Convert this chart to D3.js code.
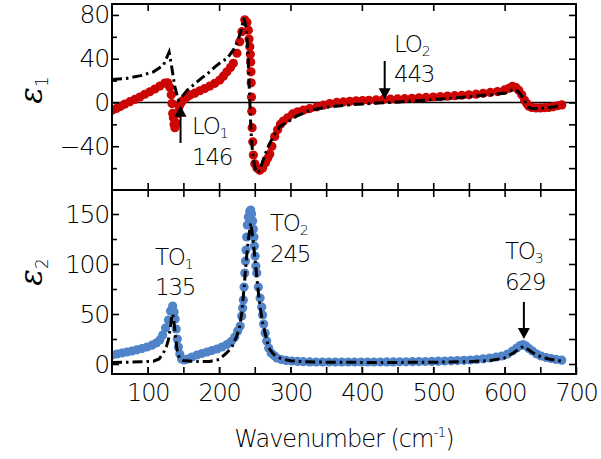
<!DOCTYPE html>
<html>
<head>
<meta charset="utf-8">
<script src="https://cdn.jsdelivr.net/npm/d3@7"></script>
<style>
  body { margin: 0; background: #fff; }
  text { font-family: "DejaVu Sans", "Liberation Sans", sans-serif; font-weight: 200; }
</style>
</head>
<body>
<svg id="chart" width="601" height="459"></svg>
<script>
// eps1 measured (red dots)
var e1Wn = [50,56,62,68,75,82,89,96,103,110,117,124,128,131,133,134,135,136,137,138,140,142,144,146,148,152,156,160,166,173,180,187,194,201,206,211,216,220,225,229,232,236,239,241,242,243,243.8,244.3,244.7,245,245.4,245.8,246.3,247.2,248,250,253,257,261,265,268,271,274,278,282,286,290,296,303,310,318,327,337,346,355,365,374,383,392,401,410,420,430,440,450,460,470,480,490,500,510,520,530,540,550,560,570,580,590,600,606,611,616,620,624,628,631,634,638,644,650,656,662,668,674,680];
var e1Val = [-7,-5.5,-3.5,-1.5,0.7,2.8,5,7.5,9.8,12.3,15,17.7,18,14,7,-1,-10,-14,-20,-23,-19,-10,-4,-1,1,3.5,5.5,7,8.5,10.7,12.7,15,17.5,20.5,24,28,32,35.8,45,55.5,64.7,75.5,73,66,58,51,44,37,28,18,5,-8,-23,-36,-48,-56,-60,-62,-60,-55,-51,-47,-40,-31,-25,-20,-17,-14,-10.5,-8.5,-7,-5.5,-4,-2.5,-1,0,0.5,1,1.5,1.8,2,2.3,2.8,3,3.2,3.5,3.8,4.2,4.6,5,5.4,5.8,6.2,6.6,7,7.6,8.4,9.2,10,11.5,13,14.8,13.5,11,7,2,-1,-3.5,-4.5,-5,-5,-4.8,-4.5,-3.8,-3,-2.2];
// eps1 fit (dash-dot)
var f1Wn = [50,70,90,108,122,130,133.6,138,143,148,155,165,175,185,195,205,211,220,226,231,234.5,237.5,239.5,241,242.5,244,245.5,247.5,250.5,254.5,258,262,267,272,278,285,296,310,323,340,356,375,394,412,430,453,477,500,525,547,575,600,610,615,619,623,627,630,634,638,650,660,670,680];
var f1Val = [21,22,24.5,28,34,46,32.7,14.4,2,5.3,11,16.5,22,27,33,38,40,48,56,66,77,70,55,35,10,-15,-35,-50,-60,-64.5,-60,-52,-43,-36,-29,-22,-17.8,-12,-8.4,-5.5,-3.9,-2.6,-1.7,-0.9,-0.3,0.5,1.5,2.5,3.8,5,6.8,8.4,11,12,10,7,3,-1,-4.5,-5.5,-5.5,-4.8,-4,-2];
// eps2 measured (blue dots)
var e2Wn = [50,57,64,71,78,85,92,99,106,112,117,121,125,129,132,135,137,138.5,140,141.5,143,145,147.5,151,156,162,169,176,183,190,197,204,211,217,222,226,229.5,231.7,233,234,235,236,237,237.7,238.7,239.6,241,243,244.3,245.5,247,248,248.8,249.5,250.5,251.5,252.7,255,257.5,259.7,261,262.5,264.5,266.7,269.5,273,277,281,287,294,302,310,318,327,336,345,354,363,372,381,390,399,408,417,426,435,444,453,462,471,480,489,498,507,516,525,534,543,552,561,570,579,588,596,604,611,617,622,626,630,634,639,645,651,658,665,672,680];
var e2Val = [9,10,11,12,13,14.2,15.5,17,18.8,21,24,29,36,44,53,58,52,45,35,25,17,10,5,4,5,7,9,10.5,12,13.5,15,17,19.5,22.5,27,33,38,48,56,64,77,91,103,114,127,139,147,152.6,154,150,143,135,127,118,108,98,91,77,66,57,49,40,31,23,16,11,8.5,6,4.5,3.6,3,2.6,2.3,2.1,2,2,2,2,2,2,2,2,2,2,2,2.1,2.1,2.2,2.2,2.3,2.4,2.5,2.6,2.8,3,3.2,3.4,3.7,4,4.5,5.2,6,7,8,10,13,16,18.5,19.5,18,15.5,13,10,8,6.5,5.5,4.6,3.8];
// eps2 fit (dash-dot)
var f2Wn = [50,70,90,108,116,122,126,129,131.5,133.6,135,136.5,138,139.5,141,143,145,150,164,187,200,210.6,218,224.7,229,231.7,234,236.3,238.5,241,243,244.3,246,248,250.5,252.7,255,257.4,260.5,264.3,268,271.3,276,280.7,288,300,320,350,400,450,500,550,580,600,612,620,626,632,640,650,662,672,680];
var f2Val = [1.5,1.8,2.2,2.8,5,11,17,24,35,47,50,44,34,24,15,9,5.5,3.5,2.6,2.6,4.5,11,17,27.6,38,51,68,87.6,107,124,135,141,133,121,104,87.6,72,57.6,43,31,21,14.3,10,7.6,5,3.2,2.2,1.8,1.6,1.6,1.8,2.3,3.5,6,11,15,17.6,15,11,7.5,5,3.6,2.8];

var xTicks = [100,200,300,400,500,600,700];
var y1Ticks = [-40,0,40,80];
var y2Ticks = [0,50,100,150];

var svg = d3.select("#chart");
var L = 112, R = 576, T = 4, M = 190, B = 374;

var x = d3.scaleLinear().domain([50,700]).range([L,R]);
var y1 = d3.scaleLinear().domain([-80,90]).range([M,T]);
var y2 = d3.scaleLinear().domain([-10,175]).range([B,M-1]);

var red = "#cc0505", blue = "#5083c8";

function zip(a, b) { return a.map(function(v, i) { return [v, b[i]]; }); }

function ticks(g, axis, fs) {
    g.call(axis);
    g.select(".domain").remove();
    g.selectAll(".tick line").attr("stroke", "#000").attr("stroke-width", 1.6);
    g.selectAll(".tick text").attr("fill", "#000").style("font-size", (fs || 24) + "px").attr("letter-spacing", "-1.2px");
}

// zero line, top panel
svg.append("line").attr("x1", L).attr("x2", R).attr("y1", y1(0)).attr("y2", y1(0))
    .attr("stroke", "#000").attr("stroke-width", 1.5);

var clip = svg.append("defs");
clip.append("clipPath").attr("id", "c1").append("rect").attr("x", L).attr("y", T).attr("width", R-L).attr("height", M-T);
clip.append("clipPath").attr("id", "c2").append("rect").attr("x", L).attr("y", M).attr("width", R-L).attr("height", B-M);

var g1 = svg.append("g").attr("clip-path", "url(#c1)");
g1.selectAll("circle").data(zip(e1Wn, e1Val)).enter().append("circle")
    .attr("cx", function(d) { return x(d[0]); })
    .attr("cy", function(d) { return y1(d[1]); })
    .attr("r", 4.6).attr("fill", red);
g1.append("path").datum(zip(f1Wn, f1Val))
    .attr("d", d3.line().x(function(d) { return x(d[0]); }).y(function(d) { return y1(d[1]); }))
    .attr("fill", "none").attr("stroke", "#000").attr("stroke-width", 3)
    .attr("stroke-dasharray", "10,4,2.5,4");

var g2 = svg.append("g").attr("clip-path", "url(#c2)");
g2.selectAll("circle").data(zip(e2Wn, e2Val)).enter().append("circle")
    .attr("cx", function(d) { return x(d[0]); })
    .attr("cy", function(d) { return y2(d[1]); })
    .attr("r", 4.6).attr("fill", blue);
g2.append("path").datum(zip(f2Wn, f2Val))
    .attr("d", d3.line().x(function(d) { return x(d[0]); }).y(function(d) { return y2(d[1]); }))
    .attr("fill", "none").attr("stroke", "#000").attr("stroke-width", 3)
    .attr("stroke-dasharray", "10,4,2.5,4");

// frames
svg.append("rect").attr("x", L).attr("y", T).attr("width", R-L).attr("height", M-T)
    .attr("fill", "none").attr("stroke", "#000").attr("stroke-width", 2);
svg.append("rect").attr("x", L).attr("y", M).attr("width", R-L).attr("height", B-M)
    .attr("fill", "none").attr("stroke", "#000").attr("stroke-width", 2);

var x50 = d3.range(100, 700, 50);
// x ticks
ticks(svg.append("g").attr("transform", "translate(0," + B + ")"),
    d3.axisBottom(x).tickValues(xTicks).tickSize(-7).tickPadding(10));
ticks(svg.append("g").attr("transform", "translate(0," + B + ")"),
    d3.axisBottom(x).tickValues(x50).tickSize(-7).tickFormat(""));
ticks(svg.append("g").attr("transform", "translate(0," + M + ")"),
    d3.axisBottom(x).tickValues(x50).tickSize(-7).tickFormat(""));
ticks(svg.append("g").attr("transform", "translate(0," + M + ")"),
    d3.axisTop(x).tickValues(x50).tickSize(-7).tickFormat(""));
ticks(svg.append("g").attr("transform", "translate(0," + T + ")"),
    d3.axisTop(x).tickValues([100,200,300,400,500,600]).tickSize(-7).tickFormat(""));

// y ticks
ticks(svg.append("g").attr("transform", "translate(" + L + ",0)"),
    d3.axisLeft(y1).tickValues(y1Ticks).tickSize(-7).tickPadding(3).tickFormat(d3.format("d")), 25);
ticks(svg.append("g").attr("transform", "translate(" + L + ",0)"),
    d3.axisLeft(y1).tickValues([-60,-20,20,60]).tickSize(-5).tickFormat(""));
ticks(svg.append("g").attr("transform", "translate(" + R + ",0)"),
    d3.axisRight(y1).tickValues([-60,-40,-20,0,20,40,60,80]).tickSize(-7).tickFormat(""));
ticks(svg.append("g").attr("transform", "translate(" + L + ",0)"),
    d3.axisLeft(y2).tickValues(y2Ticks).tickSize(-7).tickPadding(3), 25);
ticks(svg.append("g").attr("transform", "translate(" + L + ",0)"),
    d3.axisLeft(y2).tickValues([25,75,125]).tickSize(-5).tickFormat(""));
ticks(svg.append("g").attr("transform", "translate(" + R + ",0)"),
    d3.axisRight(y2).tickValues([0,25,50,75,100,125,150]).tickSize(-7).tickFormat(""));

// axis titles
var xt = svg.append("text").attr("x", 344).attr("y", 447).attr("text-anchor", "middle")
    .style("font-size", "24px").attr("letter-spacing", "-1px");
xt.append("tspan").text("Wavenumber (cm");
xt.append("tspan").attr("dy", -10).style("font-size", "14px").text("-1");
xt.append("tspan").attr("dy", 10).text(")");

function epsLabel(cy, sub) {
    var t = svg.append("text").attr("transform", "translate(42," + cy + ") rotate(-90)")
        .attr("text-anchor", "middle");
    t.append("tspan").style("font-family", "'DejaVu Serif', serif").style("font-style", "italic")
        .style("font-weight", "normal").style("font-size", "31px").text("ε");
    t.append("tspan").attr("dy", 6).style("font-size", "17px").text(sub);
}
epsLabel(90, "1");
epsLabel(272, "2");

// annotations
function label(tx, ty, main, sub, num, gap) {
    var t = svg.append("text").attr("x", tx).attr("y", ty).style("font-size", "23px").attr("letter-spacing", "-1.2px");
    t.append("tspan").text(main);
    t.append("tspan").attr("dy", 4).style("font-size", "14px").text(sub);
    svg.append("text").attr("x", tx).attr("y", ty + gap).style("font-size", "23px")
        .attr("letter-spacing", "-1.2px").text(num);
}
function arrow(xv, ya, yb) {
    // ya: tail, yb: tip
    var dir = yb > ya ? 1 : -1;
    svg.append("line").attr("x1", xv).attr("x2", xv).attr("y1", ya).attr("y2", yb - dir * 8)
        .attr("stroke", "#000").attr("stroke-width", 2);
    svg.append("path").attr("d", "M" + (xv - 6) + "," + (yb - dir * 11) + "L" + (xv + 6) + "," + (yb - dir * 11) + "L" + xv + "," + yb + "Z")
        .attr("fill", "#000");
}
label(192, 134, "LO", "1", "146", 31);
arrow(x(146), 143, y1(-3));
label(394, 52, "LO", "2", "443", 30);
arrow(x(432), 61, y1(3));
label(155, 265, "TO", "1", "135", 30);
label(270, 231, "TO", "2", "245", 31);
label(505, 259, "TO", "3", "629", 31);
arrow(x(627), 302, y2(25));
</script>
</body>
</html>
